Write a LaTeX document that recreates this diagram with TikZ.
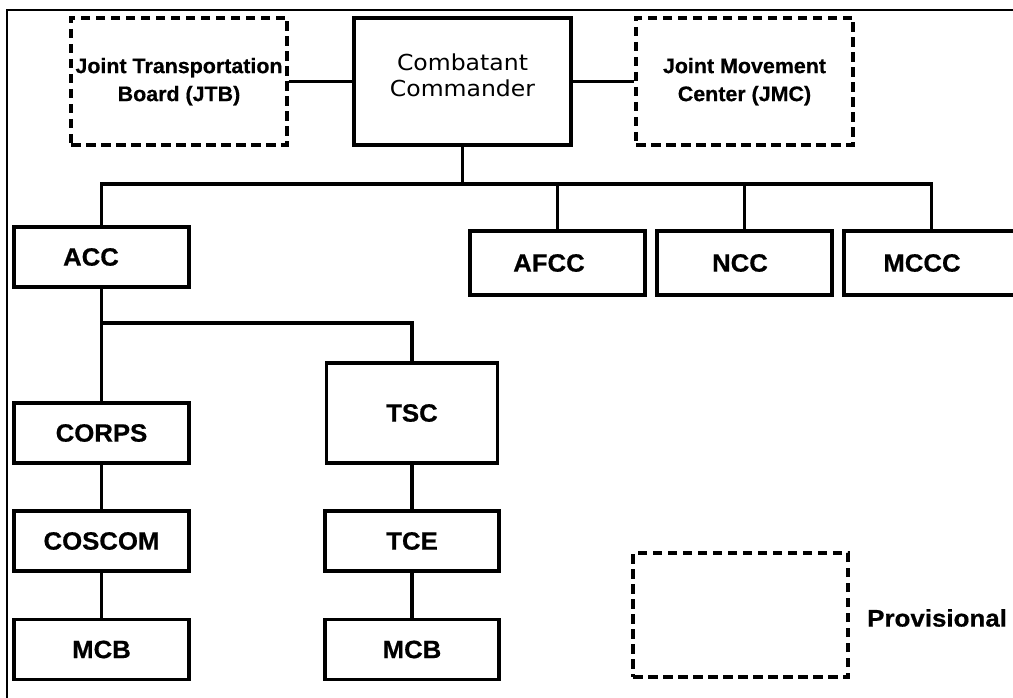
\documentclass[tikz,border=0pt]{standalone}
\usepackage{fontspec}
\usepackage{graphicx}
\setmainfont[BoldFeatures={FakeBold=0.6}]{Liberation Sans}
\newfontfamily\ccfamily{DejaVu Sans}
\newcommand\stretchx[1]{\scalebox{1.03}[1]{#1}}
\newcommand\labsize{\fontsize{25}{29}\selectfont\bfseries}
\newcommand\twoline[2]{\scalebox{1.02}[1]{\begin{tabular}{@{}c@{}}#1\\#2\end{tabular}}}
\begin{document}
\begin{tikzpicture}[x=1pt,y=-1pt,
  box/.style={draw, line width=3.3pt, inner sep=0pt, minimum width=175pt, minimum height=60pt, font=\labsize},
  dbox/.style={draw, line width=3.3pt, dash pattern=on 9.5pt off 5.5pt, inner sep=0pt, minimum width=217pt, minimum height=127pt, font=\fontsize{21}{28}\selectfont\bfseries},
  conn/.style={line width=3.1pt},
  frameline/.style={line width=1.5pt}]
\fill[white] (0,0) rectangle (1013,698);
\clip (0,0) rectangle (1013,698);
\draw[frameline] (7,698) -- (7,10) -- (1013,10);

% top row
\node[dbox, minimum width=216pt] (jtb) at (179,81.5) {\raisebox{-1pt}{\twoline{Joint Transportation}{Board (JTB)}}};
\node[box, minimum width=217pt, minimum height=127pt, font=\ccfamily\fontsize{22}{26}\selectfont] (cc) at (462.5,81.5)
  {\raisebox{-2pt}[0pt][0pt]{\scalebox{1.07}[1]{\begin{tabular}{@{}c@{}}Combatant\\Commander\end{tabular}}}};
\node[dbox] (jmc) at (744.5,81.5) {\raisebox{-1pt}{\twoline{Joint Movement}{Center (JMC)}}};

% component commands
\node[box] (acc) at (101.5,257) {\stretchx{ACC}\hspace*{21pt}};
\node[box, minimum height=64pt] (afcc) at (557.5,263) {\stretchx{AFCC}\hspace*{17pt}};
\node[box, minimum height=64pt] (ncc) at (744.5,263) {\stretchx{NCC}\hspace*{9pt}};
\node[box, minimum height=64pt] (mccc) at (931.5,263) {\stretchx{MCCC}\hspace*{19pt}};

% ACC subtree
\node[box] (corps) at (101.5,433) {\stretchx{CORPS}};
\node[box] (coscom) at (101.5,541) {\stretchx{COSCOM}};
\node[box] (mcba) at (101.5,649.5) {\stretchx{MCB}};
\node[box, minimum width=171pt, minimum height=100pt] (tsc) at (412,413) {\stretchx{TSC}};
\node[box, minimum width=174pt] (tce) at (412,541) {\stretchx{TCE}};
\node[box, minimum width=174pt] (mcbb) at (412,649.5) {\stretchx{MCB}};

% legend
\node[dbox, minimum width=215pt, minimum height=124pt] (prov) at (740.5,615) {};
\node[anchor=west, inner sep=0pt, font=\fontsize{24}{28}\selectfont\bfseries] (provtext) at (867,618) {\scalebox{1.08}[1]{Provisional}};

% connectors
\coordinate (bus) at (0,184);
\coordinate (bustwo) at (0,323);
\draw[conn] (jtb.east) -- (cc.west);
\draw[conn] (cc.east) -- (jmc.west);
\draw[conn] (cc.south) -- (cc.south |- bus);
\draw[conn] (acc.north) -- (acc.north |- bus) -- (mccc.north |- bus) -- (mccc.north);
\draw[conn] (afcc.north) -- (afcc.north |- bus);
\draw[conn] (ncc.north) -- (ncc.north |- bus);
\draw[conn] (acc.south) -- (corps.north);
\draw[conn] (acc.south |- bustwo) -- (tsc.north |- bustwo) -- (tsc.north);
\draw[conn] (corps.south) -- (coscom.north);
\draw[conn] (coscom.south) -- (mcba.north);
\draw[conn] (tsc.south) -- (tce.north);
\draw[conn] (tce.south) -- (mcbb.north);
\end{tikzpicture}
\end{document}
